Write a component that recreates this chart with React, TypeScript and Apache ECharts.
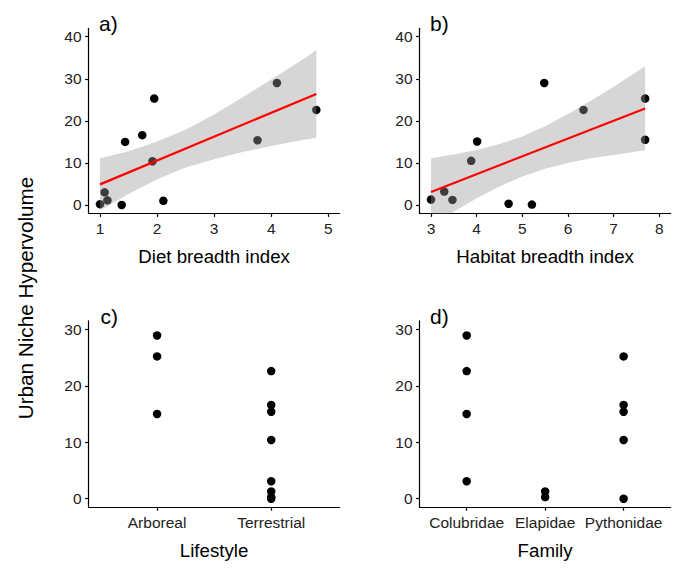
import React, { useEffect, useRef } from "react";
import * as echarts from "echarts";

// ---- Data ----
// a) Diet breadth index vs Urban Niche Hypervolume
const dietX = [1.0, 1.08, 1.13, 1.38, 1.44, 1.74, 1.95, 1.92, 2.11, 3.76, 4.1, 4.79];
const dietY = [0.2, 3.0, 1.1, 0.0, 15.0, 16.6, 25.3, 10.4, 1.0, 15.4, 29.0, 22.6];
// fitted line endpoints and confidence ribbon
const dietFitX = [1.0, 4.79];
const dietFitY = [4.9, 26.4];
const dietBandX = [1.0, 1.5, 2.0, 2.5, 3.0, 3.5, 4.0, 4.5, 4.79];
const dietBandLow = [-1.3, 2.6, 6.1, 8.9, 10.9, 12.6, 14.0, 15.3, 16.0];
const dietBandHigh = [11.1, 12.8, 15.1, 17.9, 21.5, 25.6, 29.8, 34.1, 36.8];

// b) Habitat breadth index
const habitatX = [3.0, 3.29, 3.47, 3.88, 4.01, 4.7, 5.21, 5.48, 6.34, 7.69, 7.69];
const habitatY = [1.3, 3.2, 1.2, 10.5, 15.1, 0.3, 0.1, 29.0, 22.6, 25.3, 15.5];
const habitatFitX = [3.0, 7.69];
const habitatFitY = [3.1, 22.95];
const habitatBandX = [3.0, 3.5, 4.0, 4.5, 5.0, 5.5, 6.0, 6.5, 7.0, 7.5, 7.69];
const habitatBandLow = [-4.9, -1.6, 1.6, 4.4, 6.8, 8.6, 10.0, 11.1, 11.9, 12.7, 13.0];
const habitatBandHigh = [11.1, 12.0, 13.1, 14.5, 16.3, 18.7, 21.6, 24.8, 28.1, 31.6, 33.0];

// c) Lifestyle
const lifestyleCats = ["Arboreal", "Terrestrial"];
const arborealY = [28.9, 25.2, 15.0];
const terrestrialY = [22.6, 16.6, 15.4, 10.4, 3.1, 1.3, 0.3, 0.0];

// d) Family
const familyCats = ["Colubridae", "Elapidae", "Pythonidae"];
const colubridaeY = [28.9, 22.6, 15.0, 3.1];
const elapidaeY = [1.3, 0.3];
const pythonidaeY = [25.2, 16.6, 15.4, 10.4, 0.0];

const ticksTop = [0, 10, 20, 30, 40];
const ticksBottom = [0, 10, 20, 30];
const dietTicks = [1, 2, 3, 4, 5];
const habitatTicks = [3, 4, 5, 6, 7, 8];

const FONT = "'Liberation Sans', Arial, Helvetica, sans-serif";

function axis(gridIndex: number, min: number, max: number, ticks: number[], formatter?: (v: number) => string) {
  return {
    type: "value",
    gridIndex,
    min,
    max,
    axisLine: { show: true, onZero: false, lineStyle: { color: "#000", width: 1.2 } },
    axisTick: { show: true, length: 3.5, customValues: ticks, lineStyle: { color: "#000", width: 1.2 } },
    axisLabel: {
      show: true,
      customValues: ticks,
      color: "#222",
      fontSize: 15.5,
      fontFamily: FONT,
      margin: 7,
      formatter: formatter || ((v: number) => String(v)),
    },
    splitLine: { show: false },
  };
}

function pts(xs: number[], ys: number[]) {
  return xs.map((x, i) => [x, ys[i]]);
}

function catPts(pos: number, ys: number[]) {
  return ys.map((y) => [pos, y]);
}

function scatter(idx: number, data: number[][]) {
  return {
    type: "scatter",
    xAxisIndex: idx,
    yAxisIndex: idx,
    data,
    symbolSize: 8.5,
    itemStyle: { color: "#000", opacity: 1 },
    silent: true,
    z: 2,
  };
}

function band(idx: number, xs: number[], low: number[], high: number[]) {
  return {
    type: "custom",
    xAxisIndex: idx,
    yAxisIndex: idx,
    data: [[xs[0], low[0]]],
    clip: true,
    silent: true,
    z: 3,
    renderItem: (params: any, api: any) => {
      const top = xs.map((x, i) => api.coord([x, high[i]]));
      const bottom = xs.map((x, i) => api.coord([x, low[i]])).reverse();
      const cs = params.coordSys;
      return {
        type: "polygon",
        shape: { points: [...top, ...bottom] },
        style: { fill: "rgba(153,153,153,0.4)" },
        clipPath: {
          type: "rect",
          shape: { x: cs.x, y: cs.y, width: cs.width, height: cs.height },
        },
      };
    },
  };
}

function fit(idx: number, xs: number[], ys: number[]) {
  return {
    type: "line",
    xAxisIndex: idx,
    yAxisIndex: idx,
    data: pts(xs, ys),
    symbol: "none",
    lineStyle: { color: "#ff0000", width: 2.2 },
    silent: true,
    z: 4,
  };
}

function label(text: string, x: number, y: number, size: number, align = "center", rotation = 0) {
  return {
    type: "text",
    x,
    y,
    rotation,
    style: {
      text,
      fill: "#000",
      font: `${size}px ${FONT}`,
      fontSize: size,
      fontFamily: FONT,
      align,
      verticalAlign: "middle",
      textAlign: align,
      textVerticalAlign: "middle",
    },
  };
}

export default function App() {
  const ref = useRef<HTMLDivElement>(null);

  useEffect(() => {
    if (!ref.current) return;
    const chart = echarts.init(ref.current, null, { renderer: "svg" });
    const option = {
      animation: false,
      backgroundColor: "#fff",
      textStyle: { fontFamily: FONT },
      grid: [
        { left: 88.6, top: 28.3, width: 251.1, height: 185.1 },
        { left: 419.6, top: 28.3, width: 251.1, height: 185.1 },
        { left: 88.6, top: 320.8, width: 251.1, height: 186.4 },
        { left: 419.6, top: 320.8, width: 251.1, height: 186.4 },
      ],
      xAxis: [
        axis(0, 0.8, 5.2, dietTicks),
        axis(1, 2.75, 8.25, habitatTicks),
        axis(2, 0.4, 2.6, [1, 2], (v: number) => lifestyleCats[Math.round(v) - 1] || ""),
        axis(3, 0.4, 3.6, [1, 2, 3], (v: number) => familyCats[Math.round(v) - 1] || ""),
      ],
      yAxis: [
        axis(0, -2, 42, ticksTop),
        axis(1, -2, 42, ticksTop),
        axis(2, -1.5, 31.5, ticksBottom),
        axis(3, -1.5, 31.5, ticksBottom),
      ],
      series: [
        scatter(0, pts(dietX, dietY)),
        band(0, dietBandX, dietBandLow, dietBandHigh),
        fit(0, dietFitX, dietFitY),
        scatter(1, pts(habitatX, habitatY)),
        band(1, habitatBandX, habitatBandLow, habitatBandHigh),
        fit(1, habitatFitX, habitatFitY),
        scatter(2, [...catPts(1, arborealY), ...catPts(2, terrestrialY)]),
        scatter(3, [...catPts(1, colubridaeY), ...catPts(2, elapidaeY), ...catPts(3, pythonidaeY)]),
      ],
      graphic: [
        label("a)", 99, 23.5, 21, "left"),
        label("b)", 430, 23.5, 21, "left"),
        label("c)", 100.5, 316, 21, "left"),
        label("d)", 430, 316.5, 21, "left"),
        label("Diet breadth index", 214.1, 256.5, 18.7),
        label("Habitat breadth index", 545.1, 256.5, 18.7),
        label("Lifestyle", 214.1, 550, 18.7),
        label("Family", 545.1, 550, 18.7),
        label("Urban Niche Hypervolume", 25.5, 298, 20.7, "center", Math.PI / 2),
      ],
    };
    chart.setOption(option as any);
    return () => chart.dispose();
  }, []);

  return (
    <div
      ref={ref}
      style={{ position: "absolute", left: 0, top: 0, width: 685, height: 574, background: "#fff" }}
    />
  );
}
